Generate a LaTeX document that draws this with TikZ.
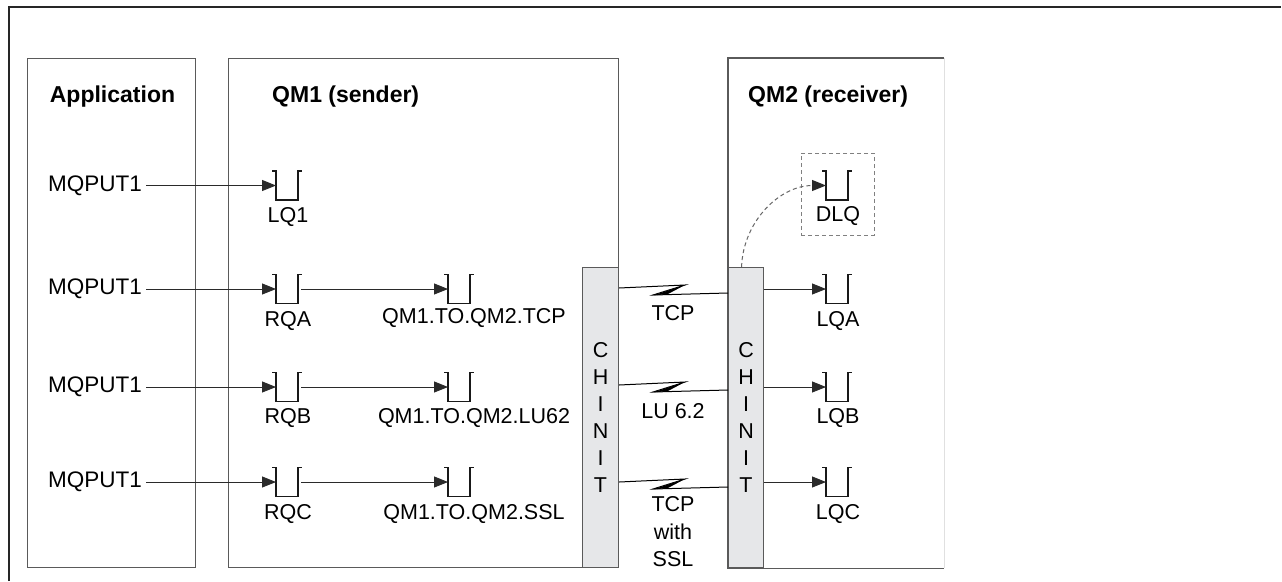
\documentclass[tikz,border=0pt]{standalone}
\usepackage{fontspec}
\setmainfont{Liberation Sans}
\usetikzlibrary{arrows.meta}
\definecolor{chfill}{HTML}{E6E7E9}
\definecolor{lnc}{HTML}{2A2A2A}
\definecolor{boxc}{HTML}{5A5A5A}
\tikzset{
 frame/.style={draw=black!85, line width=2pt},
 box/.style={draw=boxc, line width=1.1pt, anchor=north west, inner sep=0pt},
 chinit/.style={box, fill=chfill, font=\fontsize{21.5}{27}\selectfont, align=center, text=black},
 txt/.style={font=\fontsize{21.5}{25}\selectfont, inner sep=0pt, text=black},
 calltxt/.style={txt, font=\fontsize{22.5}{25}\selectfont, anchor=west},
 hdr/.style={font=\fontsize{23}{27}\selectfont\bfseries, inner sep=0pt, text=black},
 queue/.style={minimum width=22pt, minimum height=29pt, inner sep=0pt, outer sep=0pt},
 qline/.style={draw=black!90, line width=1.1pt},
 arr/.style={draw=lnc, line width=0.9pt, -{Triangle[length=14pt,width=11pt]}},
 lnk/.style={draw=black, line width=1pt},
 dlqbox/.style={draw=gray, line width=1pt, dash pattern=on 4pt off 3pt, inner sep=0pt},
 dashlink/.style={draw=gray!80!black, line width=1pt, dash pattern=on 4pt off 3pt, -{Triangle[length=14pt,width=11pt,color=lnc]}},
}
\newcommand\mqq[3]{\node[queue] (#1) at (#2,#3) {};
 \draw[qline] ([xshift=-4pt]#1.north west) -- (#1.north west) -- (#1.south west) -- (#1.south east) -- (#1.north east) -- ([xshift=4pt]#1.north east);}
\begin{document}
\begin{tikzpicture}[x=1pt,y=-1pt]
\useasboundingbox (0,0) rectangle (1282,581);
\fill[white] (0,0) rectangle (1282,581);
% outer frame
\draw[frame] (9,581) -- (9,7) -- (1281,7);
% main boxes
\node[box, minimum width=168pt, minimum height=509pt] (app) at (27,58) {};
\node[box, minimum width=390pt, minimum height=509pt] (qm1) at (228,58) {};
\node[box, draw=none, minimum width=215pt, minimum height=509pt] (qm2) at (728,58) {};
\draw[draw=boxc, line width=1.1pt] (qm2.north east) -- (qm2.north west) -- (qm2.south west) -- (qm2.south east);
\draw[draw=black!12, line width=0.8pt] (qm2.north east) -- (qm2.south east);
% headers
\node[hdr] (happ) at (112.5,97) {Application};
\node[hdr, anchor=west] (hqm1) at (272,97) {QM1 (sender)};
\node[hdr, anchor=west] (hqm2) at (748,97) {QM2 (receiver)};
% CHINIT columns
\node[chinit, minimum width=36pt, minimum height=300pt] (ch1) at (582,267) {C\\H\\I\\N\\I\\T};
\node[chinit, minimum width=35pt, minimum height=300pt] (ch2) at (728,267) {C\\H\\I\\N\\I\\T};
% application calls
\node[calltxt] (m1) at (48,185.5) {MQPUT1};
\node[calltxt] (m2) at (48,289) {MQPUT1};
\node[calltxt] (m3) at (48,387) {MQPUT1};
\node[calltxt] (m4) at (48,482) {MQPUT1};
% queues in QM1
\mqq{lq1}{287}{185.5}
\mqq{rqa}{287}{289}
\mqq{rqb}{287}{387}
\mqq{rqc}{287}{482}
\mqq{xa}{459}{289}
\mqq{xb}{459}{387}
\mqq{xc}{459}{482}
% queues in QM2
\node[dlqbox, minimum width=73pt, minimum height=82pt] (dlqb) at (837.5,194) {};
\mqq{dlq}{837}{185.5}
\mqq{lqa}{837}{289}
\mqq{lqb}{837}{387}
\mqq{lqc}{837}{482}
% queue labels
\node[txt] (llq1) at (288,217) {LQ1};
\node[txt] (lrqa) at (288,321) {RQA};
\node[txt] (lrqb) at (288,418) {RQB};
\node[txt] (lrqc) at (288,514) {RQC};
\node[txt] (lxa) at (474,318) {QM1.TO.QM2.TCP};
\node[txt] (lxb) at (474,418) {QM1.TO.QM2.LU62};
\node[txt] (lxc) at (474,514) {QM1.TO.QM2.SSL};
\node[txt] (ldlq) at (838,216) {DLQ};
\node[txt] (llqa) at (838,321) {LQA};
\node[txt] (llqb) at (838,418) {LQB};
\node[txt] (llqc) at (838,514) {LQC};
% arrows
\draw[arr] ([xshift=4pt]m1.east) -- (lq1.west);
\draw[arr] ([xshift=4pt]m2.east) -- (rqa.west);
\draw[arr] ([xshift=4pt]m3.east) -- (rqb.west);
\draw[arr] ([xshift=4pt]m4.east) -- (rqc.west);
\draw[arr] ([xshift=3pt]rqa.east) -- (xa.west);
\draw[arr] ([xshift=3pt]rqb.east) -- (xb.west);
\draw[arr] ([xshift=3pt]rqc.east) -- (xc.west);
\draw[arr] (ch2.east |- lqa.west) -- (lqa.west);
\draw[arr] (ch2.east |- lqb.west) -- (lqb.west);
\draw[arr] (ch2.east |- lqc.west) -- (lqc.west);
\draw[dashlink] ([xshift=-4.5pt]ch2.north) to[out=88,in=180] (dlq.west);
% channel links
\coordinate (ta) at (0,288);  \coordinate (tb) at (0,293);
\coordinate (ua) at (0,385);  \coordinate (ub) at (0,390);
\coordinate (sa) at (0,482);  \coordinate (sb) at (0,487);
\draw[lnk] (ch1.east |- ta) -- (685,285) -- (653,295) -- (ch2.west |- tb);
\fill (685,285) -- (653,295.5) -- (668,294) -- cycle;
\draw[lnk] (ch1.east |- ua) -- (685,382) -- (653,392) -- (ch2.west |- ub);
\fill (685,382) -- (653,392.5) -- (668,391) -- cycle;
\draw[lnk] (ch1.east |- sa) -- (685,479) -- (653,489) -- (ch2.west |- sb);
\fill (685,479) -- (653,489.5) -- (668,488) -- cycle;
\node[txt] (ltcp) at (673,313) {TCP};
\node[txt] (llu) at (673,411) {LU 6.2};
\node[txt, align=center, font=\fontsize{21.5}{27.5}\selectfont] (lssl) at (673,532) {TCP\\with\\SSL};
\end{tikzpicture}
\end{document}
